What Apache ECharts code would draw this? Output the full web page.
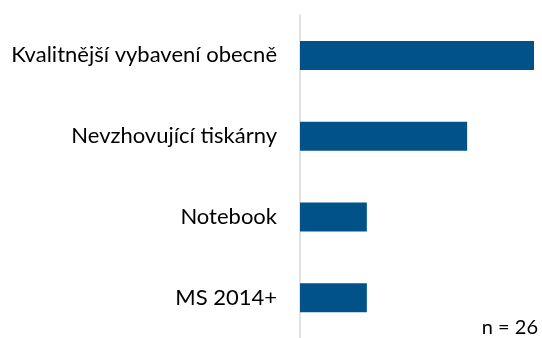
<!DOCTYPE html>
<html>
<head>
<meta charset="utf-8">
<script src="https://cdn.jsdelivr.net/npm/echarts@6/dist/echarts.min.js"></script>
<style>
  html, body { margin: 0; padding: 0; background: #ffffff; }
  #chart { width: 542px; height: 338px; }
</style>
</head>
<body>
<div id="chart"></div>
<script>
// Categories listed bottom-to-top (category axis on y runs upward)
const categories = ['MS 2014+', 'Notebook', 'Nevzhovující tiskárny', 'Kvalitnější vybavení obecně'];
const counts = [2, 2, 5, 7];
const sampleNote = 'n = 26';

const chart = echarts.init(document.getElementById('chart'), null, { renderer: 'canvas' });
chart.setOption({
  animation: false,
  grid: { left: 300, top: 15, width: 234, height: 329, containLabel: false },
  xAxis: {
    type: 'value', min: 0, max: 7,
    show: false
  },
  yAxis: {
    type: 'category',
    data: categories,
    axisLine: { show: true, lineStyle: { color: '#d9d9d9', width: 1.5 } },
    axisTick: { show: false },
    axisLabel: {
      margin: 23,
      color: '#000000',
      fontFamily: 'Lato, "Open Sans", sans-serif',
      fontSize: 22
    }
  },
  series: [{
    type: 'bar',
    data: counts,
    barWidth: 29,
    itemStyle: { color: '#02528a' }
  }],
  graphic: [{
    type: 'text',
    right: 4,
    top: 318,
    style: {
      text: sampleNote,
      fill: '#000000',
      font: '20px Lato, "Open Sans", sans-serif'
    }
  }]
});
</script>
</body>
</html>
